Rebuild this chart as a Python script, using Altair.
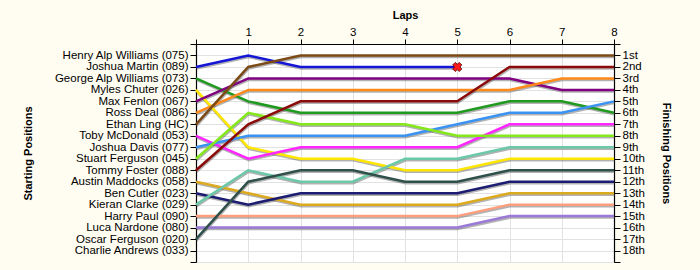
import json
import altair as alt
import pandas as pd

# ---- data -------------------------------------------------------------
laps = [0, 1, 2, 3, 4, 5, 6, 7, 8]

grid_names = [
    "Henry Alp Williams (075)", "Joshua Martin (089)", "George Alp Williams (073)",
    "Myles Chuter (026)", "Max Fenlon (067)", "Ross Deal (086)", "Ethan Ling (HC)",
    "Toby McDonald (053)", "Joshua Davis (077)", "Stuart Ferguson (045)",
    "Tommy Foster (088)", "Austin Maddocks (058)", "Ben Cutler (023)",
    "Kieran Clarke (029)", "Harry Paul (090)", "Luca Nardone (080)",
    "Oscar Ferguson (020)", "Charlie Andrews (033)",
]

finish_labels = [
    "1st", "2nd", "3rd", "4th", "5th", "6th", "7th", "8th", "9th", "10th",
    "11th", "12th", "13th", "14th", "15th", "16th", "17th", "18th",
]

drivers = [
    "Joshua Martin (089)", "George Alp Williams (073)", "Myles Chuter (026)",
    "Max Fenlon (067)", "Ross Deal (086)", "Ethan Ling (HC)", "Toby McDonald (053)",
    "Joshua Davis (077)", "Stuart Ferguson (045)", "Tommy Foster (088)",
    "Austin Maddocks (058)", "Ben Cutler (023)", "Kieran Clarke (029)",
    "Harry Paul (090)", "Luca Nardone (080)", "Oscar Ferguson (020)",
]

colors = [
    "#1515d8", "#1f9a1f", "#ffe600", "#800080", "#ff8a1a", "#7b4a16",
    "#ff26ff", "#3a93f2", "#84e81a", "#8b0a0a", "#dcaa1e", "#1c1c72",
    "#6cc9a8", "#ff9e7c", "#9a7ad6", "#2f4f4b",
]

positions = [
    [2, 1, 2, 2, 2, 2],                      # Joshua Martin - retired lap 5
    [3, 5, 6, 6, 6, 6, 5, 5, 6],
    [4, 9, 10, 10, 11, 11, 10, 10, 10],
    [5, 3, 3, 3, 3, 3, 3, 4, 4],
    [6, 4, 4, 4, 4, 4, 4, 3, 3],
    [7, 2, 1, 1, 1, 1, 1, 1, 1],
    [8, 10, 9, 9, 9, 9, 7, 7, 7],
    [9, 8, 8, 8, 8, 7, 6, 6, 5],
    [10, 6, 7, 7, 7, 8, 8, 8, 8],
    [11, 7, 5, 5, 5, 5, 2, 2, 2],
    [12, 13, 14, 14, 14, 14, 13, 13, 13],
    [13, 14, 13, 13, 13, 13, 12, 12, 12],
    [14, 11, 12, 12, 10, 10, 9, 9, 9],
    [15, 15, 15, 15, 15, 15, 14, 14, 14],
    [16, 16, 16, 16, 16, 16, 15, 15, 15],
    [17, 12, 11, 11, 12, 12, 11, 11, 11],
]

dnf_lap = [5]
dnf_pos = [2]

# ---- tables -------------------------------------------------------------
rows = []
for d, pos in zip(drivers, positions):
    for lap, p in zip(laps, pos):
        rows.append({"driver": d, "lap": lap, "pos": p})
df = pd.DataFrame(rows)
dnf_df = pd.DataFrame({"lap": dnf_lap, "pos": dnf_pos})

FONT = "Liberation Sans"
ticks_y = list(range(len(grid_names) + 2))
name_expr = json.dumps([""] + grid_names + [""]) + "[datum.value]"
fin_expr = json.dumps([""] + finish_labels + [""]) + "[datum.value]"

xscale = alt.Scale(domain=[0, 8], nice=False, zero=False)
yscale = alt.Scale(domain=[0, 19], nice=False, zero=False, reverse=True)

x_axis = alt.Axis(
    orient="top", values=laps, labelExpr="datum.value == 0 ? '' : datum.label",
    grid=True, tickSize=5, labelPadding=2, labelFlush=False,
    title="Laps", titleX=209, titleY=-29, titleBaseline="middle", titleAlign="center",
)
left_axis = alt.Axis(
    orient="left", values=ticks_y, labelExpr=name_expr, grid=True,
    tickSize=6, labelPadding=2, labelOverlap=False, labelFlush=False,
    title="Starting Positions", titleX=-168, titleY=109, titleAngle=270,
    titleBaseline="middle", titleAlign="center",
)
right_axis = alt.Axis(
    orient="right", values=ticks_y, labelExpr=fin_expr, grid=False,
    tickSize=6, labelPadding=2, labelOverlap=False, labelFlush=False,
    title="Finishing Positions", titleX=51, titleY=109, titleAngle=90,
    titleBaseline="middle", titleAlign="center",
)

X = alt.X("lap:Q", scale=xscale, axis=x_axis)

shadow = alt.Chart(df).mark_line(
    strokeWidth=2.5, color="#555555", opacity=0.45, yOffset=1.5, xOffset=0.5
).encode(
    x=X,
    y=alt.Y("pos:Q", scale=yscale, axis=left_axis),
    detail="driver:N",
    order="lap:Q",
)

lines = alt.Chart(df).mark_line(strokeWidth=2.5).encode(
    x=X,
    y=alt.Y("pos:Q", scale=yscale, axis=right_axis),
    color=alt.Color("driver:N", scale=alt.Scale(domain=drivers, range=colors), legend=None),
    order="lap:Q",
)

marker = alt.Chart(dnf_df).mark_point(
    shape="cross", angle=45, size=85, filled=True, fill="#ff1a1a",
    stroke="#5a0000", strokeWidth=0.8, opacity=1,
).encode(
    x=X,
    y=alt.Y("pos:Q", scale=yscale, axis=None),
)

chart = (
    alt.layer(shadow, lines, marker)
    .resolve_scale(y="independent")
    .resolve_axis(y="independent")
    .properties(
        width=418, height=218,
        autosize=alt.AutoSizeParams(type="none"),
        padding={"left": 196, "top": 44, "right": 86, "bottom": 8},
        background="#fffdf2",
    )
    .configure_view(fill="#ffffff", stroke=None)
    .configure_axis(
        labelFont=FONT, labelFontSize=11.5, labelColor="#000000",
        titleFont=FONT, titleFontSize=11, titleFontWeight="bold", titleColor="#000000",
        domainColor="#000000", domainWidth=1.2, tickColor="#000000", tickWidth=1,
        gridColor="#e2e2e2", gridWidth=1,
    )
)

chart.save("out.html", embed_options={"renderer": "svg", "actions": False})
